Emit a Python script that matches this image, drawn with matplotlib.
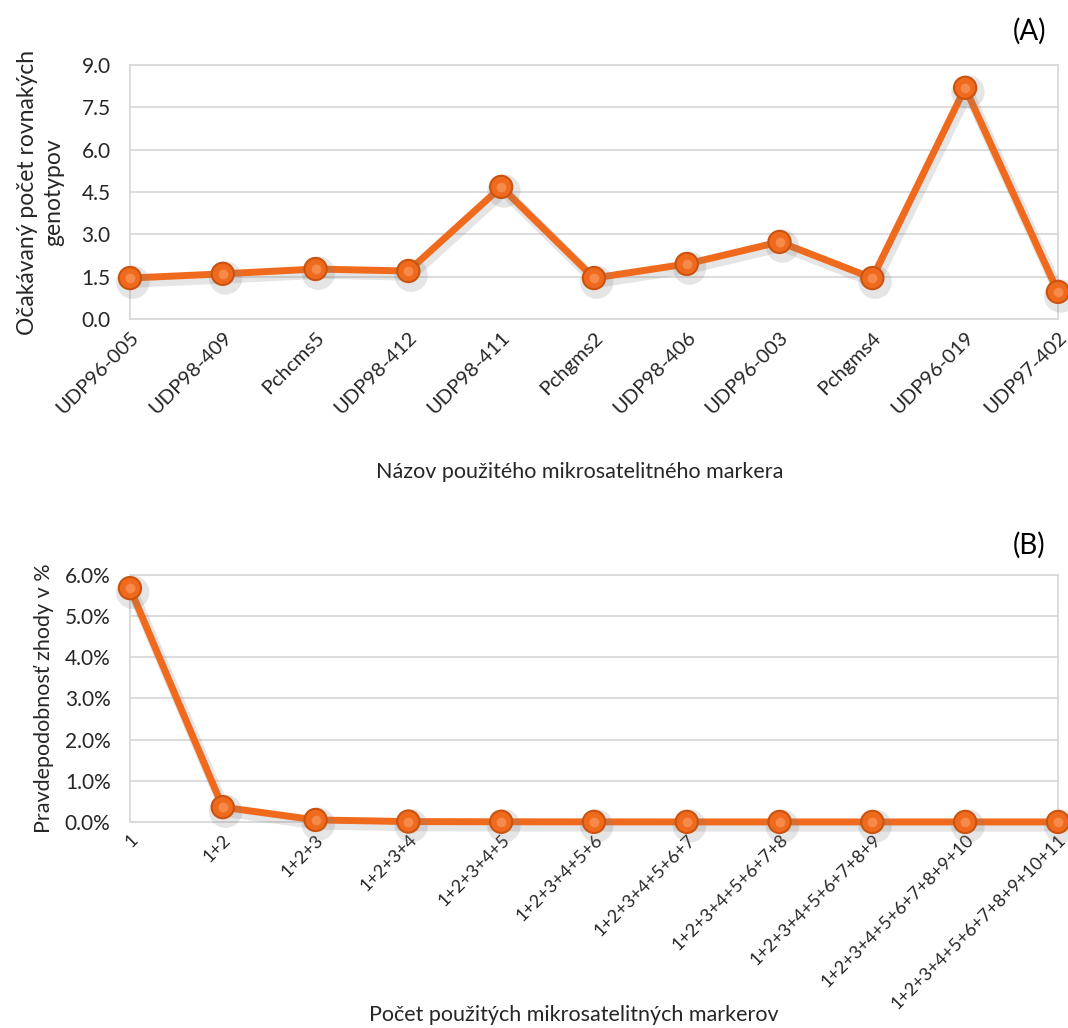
import numpy as np
import matplotlib
matplotlib.use('Agg')
import matplotlib.pyplot as plt
import matplotlib.patheffects as pe
from matplotlib.ticker import FuncFormatter

plt.rcParams['font.family'] = ['Lato', 'DejaVu Sans']

# ---------- data ----------
markers = ['UDP96-005', 'UDP98-409', 'Pchcms5', 'UDP98-412', 'UDP98-411', 'Pchgms2',
           'UDP98-406', 'UDP96-003', 'Pchgms4', 'UDP96-019', 'UDP97-402']
expected_genotypes = [1.45, 1.6, 1.77, 1.7, 4.68, 1.45, 1.95, 2.73, 1.45, 8.19, 0.96]

combos = ['+'.join(str(j) for j in range(1, i + 1)) for i in range(1, 12)]
match_prob = [5.68, 0.36, 0.05, 0.01, 0.005, 0.003, 0.002, 0.001, 0.001, 0.001, 0.001]

orange = '#F06A1E'
edge = '#C9530F'
grid_col = '#D9D9D9'
text_col = '#262626'

fig = plt.figure(figsize=(10.68, 10.28), dpi=100)
axA = fig.add_axes([0.1217, 0.6897, 0.8689, 0.2471])
axB = fig.add_axes([0.1217, 0.2004, 0.8689, 0.2403])

shadow = [pe.SimpleLineShadow(offset=(2, -3), shadow_color='gray', alpha=0.2, linewidth=8), pe.Normal()]


def style(ax, xsize):
    for s in ax.spines.values():
        s.set_color(grid_col)
        s.set_linewidth(1.3)
    ax.grid(axis='y', color=grid_col, linewidth=1.3)
    ax.set_axisbelow(True)
    ax.tick_params(axis='y', length=0, labelsize=15, colors=text_col, pad=14)
    ax.tick_params(axis='x', length=0, labelsize=xsize, colors=text_col, pad=7)


def draw(ax, xs, ys):
    ax.plot(xs, ys, color=orange, linewidth=5, marker='o', markersize=16,
            markerfacecolor=orange, markeredgecolor=edge, markeredgewidth=1.5,
            path_effects=shadow, clip_on=False, zorder=3)
    # highlight on the markers
    ax.plot(xs, ys, linestyle='none', marker='o', markersize=7, markeredgewidth=0,
            markerfacecolor='#F58A4A', clip_on=False, zorder=4)


# ---------- panel A ----------
x = np.arange(len(markers))
draw(axA, x, expected_genotypes)
axA.set_xlim(0, len(markers) - 1)
axA.set_ylim(0, 9)
axA.set_yticks(np.arange(0, 9.1, 1.5))
axA.yaxis.set_major_formatter(FuncFormatter(lambda v, p: f'{v:.1f}'))
axA.set_xticks(x)
axA.set_xticklabels(markers, rotation=45, ha='right', va='top', rotation_mode='anchor')
style(axA, 14.5)
axA.set_ylabel('Očakávaný počet rovnakých\ngenotypov', fontsize=16.5, color=text_col, labelpad=12,
               linespacing=1.35)
fig.text(0.543, 0.541, 'Názov použitého mikrosatelitného markera', ha='center', va='center',
         fontsize=15.5, color=text_col)
fig.text(0.964, 0.970, '(A)', ha='center', va='center', fontsize=20, color='black')

# ---------- panel B ----------
xb = np.arange(len(combos))
draw(axB, xb, match_prob)
axB.set_xlim(0, len(combos) - 1)
axB.set_ylim(0, 6)
axB.set_yticks(np.arange(0, 6.1, 1))
axB.yaxis.set_major_formatter(FuncFormatter(lambda v, p: f'{v:.1f}%'))
axB.set_xticks(xb)
axB.set_xticklabels(combos, rotation=45, ha='right', va='top', rotation_mode='anchor')
style(axB, 13)
axB.set_ylabel('Pravdepodobnosť zhody v %', fontsize=15.5, color=text_col, labelpad=8)
fig.text(0.537, 0.013, 'Počet použitých mikrosatelitných markerov', ha='center', va='center',
         fontsize=15.5, color=text_col)
fig.text(0.964, 0.470, '(B)', ha='center', va='center', fontsize=20, color='black')

fig.savefig('out.png', dpi=100, facecolor='white')
